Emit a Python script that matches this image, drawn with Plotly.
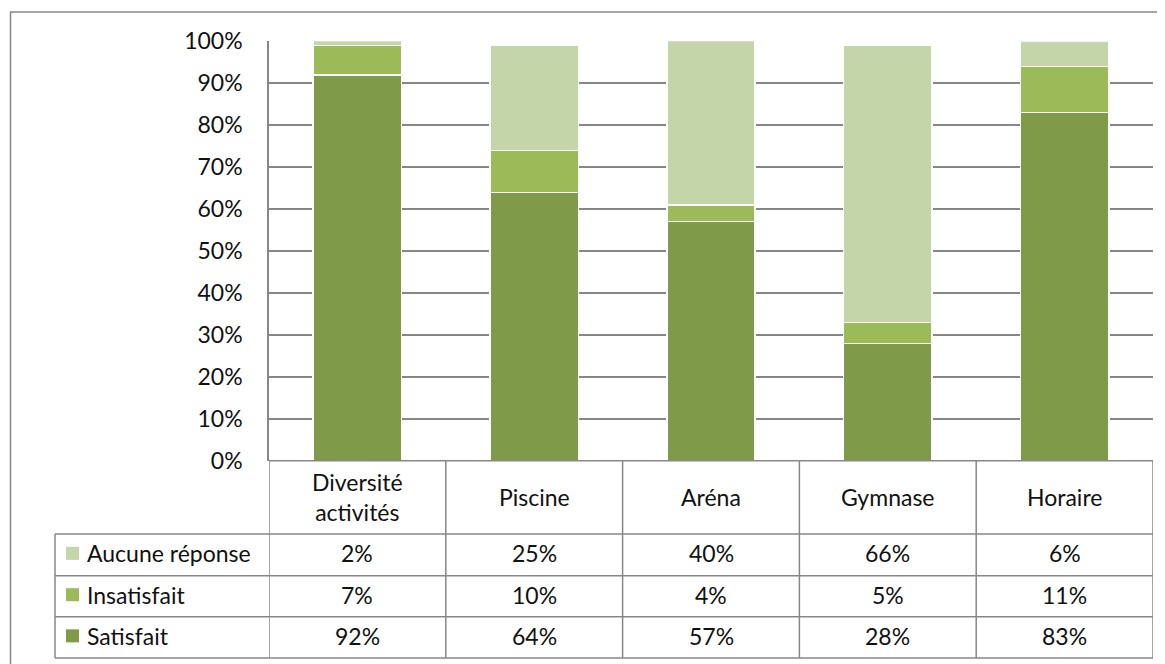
import plotly.graph_objects as go

categories = ["Diversité<br>activités", "Piscine", "Aréna", "Gymnase", "Horaire"]
satisfait = [92, 64, 57, 28, 83]
insatisfait = [7, 10, 4, 5, 11]
aucune = [2, 25, 40, 66, 6]
series = [("Satisfait", satisfait, "#7F9A48"),
          ("Insatisfait", insatisfait, "#9BBB59"),
          ("Aucune réponse", aucune, "#C4D5AA")]
yticks = list(range(0, 101, 10))

OFF = 8  # page body margin
W, H = 1165 - OFF, 664 - OFF
FONT = "Lato"
FS = 23
LINE = "#878787"


def px(x):
    return (x - OFF) / W


def py(y):
    return 1 - (y - OFF) / H


x_left, x_right = 269, 1153
y_top, y_bot = 41.3, 460.7
rows = [460.7, 534, 575.7, 616.7, 658]
tab_left = 55

fig = go.Figure()
xs = list(range(len(categories)))
for name, vals, col in series:
    fig.add_trace(go.Bar(x=xs, y=vals, name=name, width=0.5,
                         marker=dict(color=col, line=dict(color="white", width=1.5)),
                         showlegend=False))

shapes = []
for i in range(len(categories) + 1):
    shapes.append(dict(type="line", xref="x", yref="paper", x0=i - 0.5, x1=i - 0.5,
                       y0=py(rows[0]), y1=py(rows[-1]), line=dict(color=LINE, width=1.5)))
for j, r in enumerate(rows):
    x0 = px(x_left) if j == 0 else px(tab_left)
    shapes.append(dict(type="line", xref="paper", yref="paper", x0=x0, x1=px(x_right),
                       y0=py(r), y1=py(r), line=dict(color=LINE, width=1.5)))
shapes.append(dict(type="line", xref="paper", yref="paper", x0=px(tab_left), x1=px(tab_left),
                   y0=py(rows[1]), y1=py(rows[-1]), line=dict(color=LINE, width=1.5)))
shapes.append(dict(type="line", xref="paper", yref="paper", x0=px(10.5), x1=1.0,
                   y0=py(12), y1=py(12), line=dict(color=LINE, width=1.5)))
shapes.append(dict(type="line", xref="paper", yref="paper", x0=px(10.5), x1=px(10.5),
                   y0=py(11.5), y1=0.0, line=dict(color=LINE, width=1.5)))

annotations = []
txt = dict(showarrow=False, xanchor="center", yanchor="middle",
           font=dict(family=FONT, size=FS, color="#111"))
for i, c in enumerate(categories):
    annotations.append(dict(x=i, y=py((rows[0] + rows[1]) / 2), xref="x", yref="paper",
                            text=c, **txt))
table_rows = [("Aucune réponse", aucune, "#C4D5AA"),
              ("Insatisfait", insatisfait, "#9BBB59"),
              ("Satisfait", satisfait, "#7F9A48")]
for k, (name, vals, col) in enumerate(table_rows):
    yc = (rows[k + 1] + rows[k + 2]) / 2 - 1.5
    for i, v in enumerate(vals):
        annotations.append(dict(x=i, y=py(yc), xref="x", yref="paper", text=f"{v}%", **txt))
    annotations.append(dict(x=px(85), y=py(yc), xref="paper", yref="paper", text=name,
                            showarrow=False, xanchor="left", yanchor="middle",
                            font=dict(family=FONT, size=FS, color="#111")))
    shapes.append(dict(type="rect", xref="paper", yref="paper", x0=px(66), x1=px(79),
                       y0=py(yc + 6.5), y1=py(yc - 6.5), fillcolor=col, line=dict(width=0)))

fig.update_layout(
    width=W, height=H, margin=dict(l=0, r=0, t=0, b=0, autoexpand=False),
    paper_bgcolor="white", plot_bgcolor="white",
    barmode="stack", bargap=0.5,
    shapes=shapes, annotations=annotations,
    xaxis=dict(domain=[px(x_left), px(x_right)], range=[-0.5, len(categories) - 0.5],
               showgrid=False, showticklabels=False, zeroline=False, showline=False,
               automargin=False),
    yaxis=dict(domain=[py(y_bot), py(y_top)], range=[0, 100], tickvals=yticks,
               ticktext=[f"{t}%" for t in yticks], showgrid=True, gridcolor=LINE, gridwidth=1.5,
               showline=True, linecolor=LINE, linewidth=1.5, zeroline=False,
               ticks="", ticklabelstandoff=20, automargin=False,
               tickfont=dict(family=FONT, size=FS, color="#111")),
)

fig.write_html("out.html")
